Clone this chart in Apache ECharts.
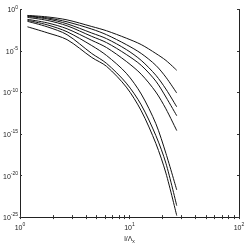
<!DOCTYPE html>
<html><head><meta charset="utf-8">
<script src="https://cdn.jsdelivr.net/npm/echarts@6/dist/echarts.min.js"></script>
<style>html,body{margin:0;padding:0;background:#fff}#c{width:249px;height:249px}</style>
</head><body><div id="c"></div>
<script>
const xs = [1.17, 1.77, 2.69, 4.52, 6.17, 9.35, 12.8, 17.4, 21.5, 27];
const lineA = [0.193, 0.128, 0.0562, 0.00896, 0.00275, 3.53e-4, 5.94e-5, 5.04e-6, 7.4e-7, 4.77e-8];
const lineB = [0.168, 0.0973, 0.0325, 0.0044, 9.2e-4, 5.94e-5, 5.04e-6, 1.88e-7, 7.0e-9, 8.7e-11];
const lineC = [0.147, 0.074, 0.0188, 0.00147, 3.08e-4, 1.51e-5, 7.4e-7, 1.21e-8, 2.61e-10, 1.88e-12];
const lineD = [0.112, 0.049, 0.0109, 5.78e-4, 1.03e-4, 3.83e-6, 1.88e-7, 2.34e-9, 2.9e-11, 1.6e-13];
const lineE = [0.0645, 0.0247, 0.00477, 1.93e-4, 2.61e-5, 5.62e-7, 1.59e-8, 1.15e-10, 1.09e-12, 2.63e-15];
const lineF = [0.049, 0.0143, 0.00209, 4.52e-5, 2.91e-6, 2.1e-8, 6.6e-11, 1.78e-14, 4.77e-18, 1.87e-22];
const lineG = [0.0373, 0.00826, 9.2e-4, 5.04e-6, 3.25e-7, 1.35e-9, 3.24e-12, 6.6e-16, 3.08e-19, 2.34e-24];
const lineH = [0.00826, 0.00159, 2.34e-4, 1.68e-6, 1.43e-7, 4.52e-10, 6.3e-13, 7.4e-17, 2.0e-20, 1.5e-25];
const allLines = [lineA, lineB, lineC, lineD, lineE, lineF, lineG, lineH];
const xTickValues = [1,2,3,4,5,6,7,8,9,10,20,30,40,50,60,70,80,90,100];
const xLabelValues = [1, 10, 100];
const yLabelValues = [1e-25, 1e-20, 1e-15, 1e-10, 1e-5, 1];

const font = 'Liberation Sans';
function pow10(v){
  const e = Math.round(Math.log10(v));
  return '{b|10}{e|' + e + '}';
}
const rich = {
  b: {fontSize: 7, fontFamily: font, color: '#222', verticalAlign: 'bottom'},
  e: {fontSize: 5, fontFamily: font, color: '#222', verticalAlign: 'top', padding: [0,0,4,0]}
};
const tickStyle = {show: true, inside: true, length: 2, lineStyle: {color: '#333', width: 1}};
const axisLine = {show: true, lineStyle: {color: '#222', width: 1}};

const chart = echarts.init(document.getElementById('c'), null, {renderer: 'canvas'});
chart.setOption({
  animation: false,
  backgroundColor: '#fff',
  grid: {left: 17.5, right: 10, top: 9.5, bottom: 29.5, containLabel: false},
  xAxis: [
    {type: 'log', min: 1, max: 100, position: 'bottom',
     axisLine: axisLine,
     axisTick: Object.assign({customValues: xTickValues}, tickStyle),
     minorTick: {show: false},
     splitLine: {show: false},
     axisLabel: {customValues: xLabelValues, formatter: pow10, rich: rich, margin: 5},
     name: '{n|l/Λ}{s|x}', nameLocation: 'middle', nameGap: 15,
     nameTextStyle: {rich: {
       n: {fontSize: 7, fontFamily: font, color: '#222'},
       s: {fontSize: 5, fontFamily: font, color: '#222', verticalAlign: 'bottom', padding: [4,0,0,0]}
     }}},
    {type: 'log', min: 1, max: 100, position: 'top',
     axisLine: axisLine,
     axisTick: Object.assign({customValues: xTickValues}, tickStyle),
     splitLine: {show: false},
     axisLabel: {show: false}}
  ],
  yAxis: [
    {type: 'log', min: 1e-25, max: 1, position: 'left',
     axisLine: axisLine,
     axisTick: Object.assign({customValues: yLabelValues}, tickStyle),
     splitLine: {show: false},
     axisLabel: {customValues: yLabelValues, formatter: pow10, rich: rich, margin: 2}},
    {type: 'log', min: 1e-25, max: 1, position: 'right',
     axisLine: axisLine,
     axisTick: Object.assign({customValues: yLabelValues}, tickStyle),
     splitLine: {show: false},
     axisLabel: {show: false}}
  ],
  series: allLines.map(ys => ({
    type: 'line',
    xAxisIndex: 0, yAxisIndex: 0,
    data: xs.map((x, i) => [x, ys[i]]),
    smooth: 0.3,
    symbol: 'none',
    lineStyle: {color: '#111', width: 1}
  }))
});
</script></body></html>
